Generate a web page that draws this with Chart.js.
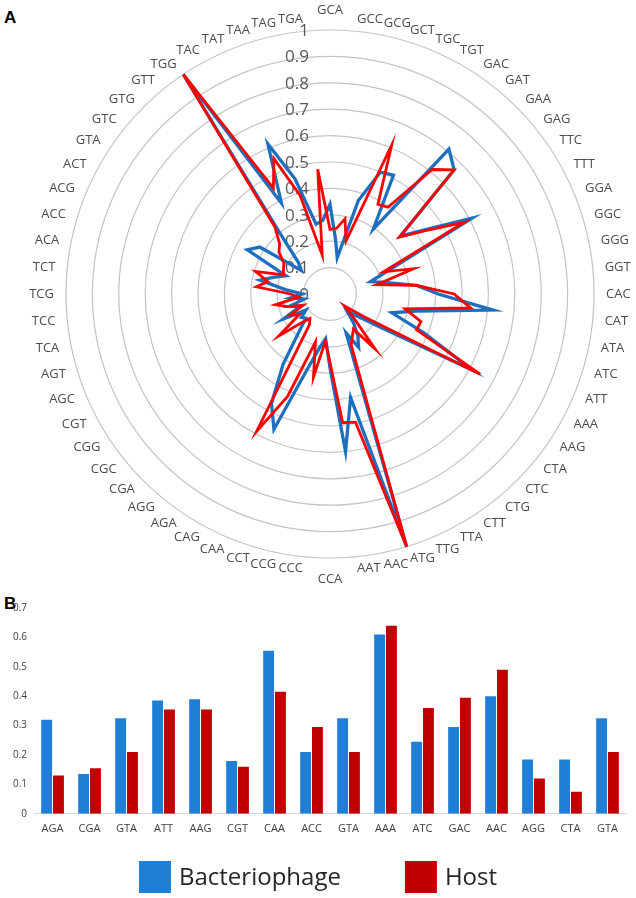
<!DOCTYPE html>
<html>
<head>
<meta charset="utf-8">
<script src="https://cdn.jsdelivr.net/npm/chart.js@4.4.1/dist/chart.umd.min.js"></script>
<style>
  html, body { margin: 0; padding: 0; background: #fff; }
  body { width: 636px; height: 898px; position: relative; overflow: hidden; }
  #radarChart { position: absolute; left: 0; top: 0; }
  #barChart { position: absolute; left: 0; top: 590px; }
  .panel { position: absolute; left: 4px; font: bold 17px "Liberation Sans", Arial, sans-serif; color: #000; }
</style>
</head>
<body>
<div class="panel" style="top:8px">A</div>
<div class="panel" style="top:594px">B</div>
<canvas id="radarChart" width="636" height="590"></canvas>
<canvas id="barChart" width="636" height="308"></canvas>
<script>
// Panel A - codon categories around the radar (clockwise from top)
const codons = ['GCA', 'GCC', 'GCG', 'GCT', 'TGC', 'TGT', 'GAC', 'GAT', 'GAA', 'GAG', 'TTC', 'TTT', 'GGA', 'GGC', 'GGG', 'GGT',
  'CAC', 'CAT', 'ATA', 'ATC', 'ATT', 'AAA', 'AAG', 'CTA', 'CTC', 'CTG', 'CTT', 'TTA', 'TTG', 'ATG', 'AAC', 'AAT',
  'CCA', 'CCC', 'CCG', 'CCT', 'CAA', 'CAG', 'AGA', 'AGG', 'CGA', 'CGC', 'CGG', 'CGT', 'AGC', 'AGT', 'TCA', 'TCC',
  'TCG', 'TCT', 'ACA', 'ACC', 'ACG', 'ACT', 'GTA', 'GTC', 'GTG', 'GTT', 'TGG', 'TAC', 'TAT', 'TAA', 'TAG', 'TGA'];

// values (blue = bacteriophage, red = host)
const phageRadar = [0.34, 0.21, 0.14, 0.37, 0.50, 0.51, 0.295, 0.71, 0.665, 0.345, 0.44, 0.61, 0.25, 0.16, 0.22, 0.33,
  0.41, 0.62, 0.33, 0.245, 0.385, 0.61, 0.22, 0.13, 0.09, 0.14, 0.19, 0.23, 0.16, 1.0, 0.40, 0.60,
  0.28, 0.17, 0.21, 0.30, 0.555, 0.47, 0.32, 0.185, 0.13, 0.14, 0.11, 0.20, 0.12, 0.16, 0.10, 0.15,
  0.105, 0.17, 0.27, 0.22, 0.18, 0.355, 0.32, 0.14, 0.17, 0.30, 1.0, 0.39, 0.615, 0.455, 0.27, 0.28];
const hostRadar = [0.245, 0.25, 0.29, 0.21, 0.61, 0.385, 0.395, 0.61, 0.665, 0.34, 0.43, 0.575, 0.22, 0.33, 0.18, 0.33,
  0.47, 0.535, 0.29, 0.36, 0.355, 0.645, 0.155, 0.07, 0.125, 0.27, 0.16, 0.18, 0.21, 1.0, 0.495, 0.49,
  0.26, 0.18, 0.32, 0.19, 0.42, 0.59, 0.14, 0.12, 0.155, 0.25, 0.14, 0.17, 0.11, 0.165, 0.21, 0.12,
  0.15, 0.28, 0.24, 0.295, 0.19, 0.20, 0.21, 0.25, 0.27, 0.33, 1.0, 0.455, 0.555, 0.39, 0.15, 0.475];

const radarTicks = [0, 0.1, 0.2, 0.3, 0.4, 0.5, 0.6, 0.7, 0.8, 0.9, 1];
const radarTickLabels = ['0', '0.1', '0.2', '0.3', '0.4', '0.5', '0.6', '0.7', '0.8', '0.9', '1'];

// Panel B - selected codons
const barCodons = ['AGA', 'CGA', 'GTA', 'ATT', 'AAG', 'CGT', 'CAA', 'ACC', 'GTA', 'AAA', 'ATC', 'GAC', 'AAC', 'AGG', 'CTA', 'GTA'];
const phageBars = [0.32, 0.135, 0.325, 0.385, 0.39, 0.18, 0.555, 0.21, 0.325, 0.61, 0.245, 0.295, 0.40, 0.185, 0.185, 0.325];
const hostBars = [0.13, 0.155, 0.21, 0.355, 0.355, 0.16, 0.415, 0.295, 0.21, 0.64, 0.36, 0.395, 0.49, 0.12, 0.075, 0.21];

// axis numbers and codon names for the radar, placed with the scale itself
const radarText = {
  id: 'radarText',
  beforeDatasetsDraw(chart) {
    const r = chart.scales.r;
    const ctx = chart.ctx;
    ctx.save();
    ctx.font = '17px "Open Sans"';
    ctx.fillStyle = '#595959';
    ctx.textAlign = 'right';
    ctx.textBaseline = 'middle';
    radarTicks.forEach((v, i) => {
      const p = r.getPointPositionForValue(0, v);
      ctx.fillText(radarTickLabels[i], p.x - 21, p.y + 1);
    });

    ctx.font = '13px "Open Sans"';
    ctx.fillStyle = '#4d4d4d';
    codons.forEach((c, i) => {
      const p = r.getPointPosition(i, r.drawingArea + 12);
      const a = r.getIndexAngle(i);
      const s = Math.sin(a), co = Math.cos(a);
      // left / right aligned like the spreadsheet labels, centred only at top and bottom
      ctx.textAlign = s > 0.01 ? 'left' : (s < -0.01 ? 'right' : 'center');
      let dy = 0;
      if (co > 0.999) dy = -8;
      if (co < -0.999) dy = 9;
      ctx.fillText(c, p.x, p.y + dy);
    });
    ctx.restore();
  }
};

const radarChart = new Chart(document.getElementById('radarChart'), {
  type: 'radar',
  data: {
    labels: codons,
    datasets: [
      { label: 'Bacteriophage', data: phageRadar, borderColor: '#1f6fbf', borderWidth: 3.3, fill: false, order: 2 },
      { label: 'Host', data: hostRadar, borderColor: '#ff0000', borderWidth: 2.8, fill: false, order: 1 }
    ]
  },
  options: {
    responsive: false,
    animation: false,
    layout: { padding: { left: 66, right: 42, top: 30, bottom: 32 } },
    elements: {
      line: { tension: 0, borderJoinStyle: 'miter' },
      point: { radius: 0, hoverRadius: 0 }
    },
    plugins: { legend: { display: false }, tooltip: { enabled: false } },
    scales: {
      r: {
        min: 0,
        max: 1,
        ticks: { display: false, stepSize: 0.1 },
        grid: { circular: true, color: '#c4c4c4', lineWidth: 1.2 },
        angleLines: { display: false },
        pointLabels: { display: false }
      }
    }
  },
  plugins: [radarText]
});

// legend under the bars, built from the datasets
const barLegend = {
  id: 'barLegend',
  afterDraw(chart) {
    const ctx = chart.ctx;
    const items = chart.data.datasets.map(d => ({ text: d.label, color: d.backgroundColor }));
    ctx.save();
    ctx.font = '24px "Open Sans"';
    ctx.textBaseline = 'middle';
    ctx.textAlign = 'left';
    const box = 32, gap = 8, spacing = 64, y = 287;
    const widths = items.map(it => box + gap + ctx.measureText(it.text).width);
    const total = widths.reduce((a, b) => a + b, 0) + spacing * (items.length - 1);
    let x = (chart.width - total) / 2;
    items.forEach((it, i) => {
      ctx.fillStyle = it.color;
      ctx.fillRect(x, y - box / 2, box, box);
      ctx.fillStyle = '#262626';
      ctx.fillText(it.text, x + box + gap, y + 1);
      x += widths[i] + spacing;
    });
    ctx.restore();
  }
};

const barChart = new Chart(document.getElementById('barChart'), {
  type: 'bar',
  data: {
    labels: barCodons,
    datasets: [
      { label: 'Bacteriophage', data: phageBars, backgroundColor: '#1f7fd6' },
      { label: 'Host', data: hostBars, backgroundColor: '#c00000' }
    ]
  },
  options: {
    responsive: false,
    animation: false,
    layout: { padding: { left: 6, right: 10, top: 18, bottom: 55 } },
    datasets: { bar: { categoryPercentage: 0.64, barPercentage: 0.92 } },
    plugins: { legend: { display: false }, tooltip: { enabled: false } },
    scales: {
      x: {
        grid: { display: false, drawTicks: false },
        border: { color: '#d9d9d9' },
        ticks: { color: '#404040', font: { size: 11, family: 'Open Sans' }, maxRotation: 0, autoSkip: false, padding: 8 }
      },
      y: {
        min: 0,
        max: 0.7,
        grid: { display: false, drawTicks: false },
        border: { display: false },
        ticks: { stepSize: 0.1, color: '#404040', font: { size: 10, family: 'Open Sans' }, padding: 7 }
      }
    }
  },
  plugins: [barLegend]
});
</script>
</body>
</html>
